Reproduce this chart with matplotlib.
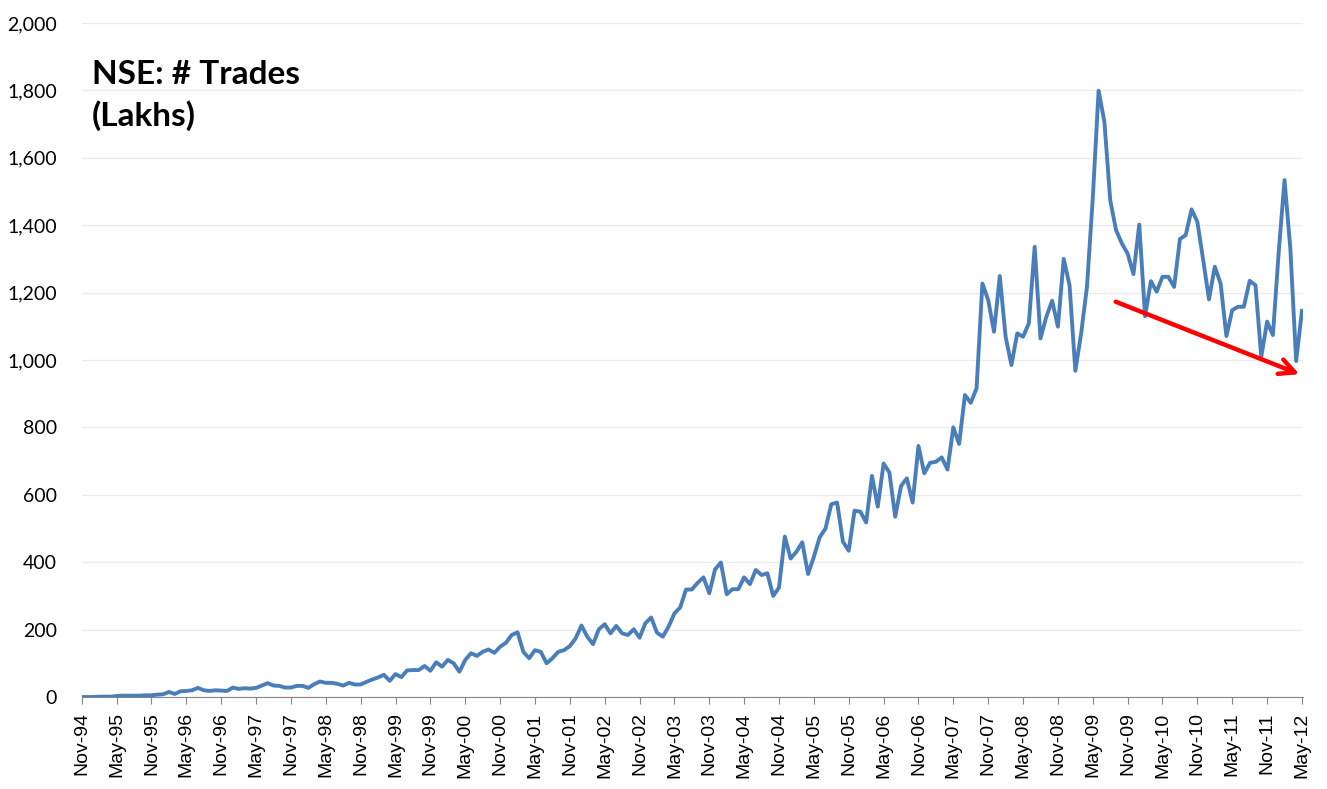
import matplotlib.pyplot as plt
import numpy as np

# monthly number of trades on NSE, lakhs, Nov-94 .. May-12
trades = [
    0, 0, 0, 1, 1, 1, 3, 4, 4, 4, 4, 5,
    5, 7, 8, 15, 9, 17, 18, 20, 27, 20, 18, 20,
    19, 18, 28, 24, 26, 25, 27, 34, 41, 34, 33, 28,
    28, 33, 33, 27, 38, 46, 42, 42, 39, 34, 42, 37,
    37, 45, 52, 58, 66, 48, 68, 59, 79, 80, 80, 92,
    78, 103, 90, 110, 100, 75, 110, 130, 122, 134, 141, 131,
    149, 161, 184, 192, 134, 115, 139, 134, 100, 115, 134, 139,
    151, 174, 212, 179, 157, 201, 216, 189, 211, 189, 184, 201,
    176, 219, 236, 191, 179, 209, 248, 266, 319, 319, 339, 355,
    308, 379, 399, 305, 320, 320, 355, 335, 377, 362, 367, 300,
    325, 476, 411, 431, 459, 365, 416, 474, 500, 572, 577, 461,
    434, 553, 550, 518, 656, 565, 693, 666, 535, 626, 649, 577,
    745, 664, 695, 698, 711, 675, 800, 751, 896, 873, 916, 1227,
    1178, 1084, 1249, 1069, 985, 1079, 1069, 1109, 1336, 1064, 1128, 1176,
    1099, 1300, 1222, 968, 1079, 1217, 1480, 1799, 1707, 1475, 1386, 1346,
    1316, 1255, 1402, 1130, 1234, 1203, 1247, 1247, 1217, 1359, 1371, 1447,
    1410, 1297, 1180, 1277, 1227, 1071, 1148, 1158, 1158, 1235, 1222, 1010,
    1114, 1074, 1320, 1534, 1331, 997, 1146,
]

xlabels = [
    'Nov-94', 'May-95', 'Nov-95', 'May-96', 'Nov-96', 'May-97', 'Nov-97',
    'May-98', 'Nov-98', 'May-99', 'Nov-99', 'May-00', 'Nov-00', 'May-01',
    'Nov-01', 'May-02', 'Nov-02', 'May-03', 'Nov-03', 'May-04', 'Nov-04',
    'May-05', 'Nov-05', 'May-06', 'Nov-06', 'May-07', 'Nov-07', 'May-08',
    'Nov-08', 'May-09', 'Nov-09', 'May-10', 'Nov-10', 'May-11', 'Nov-11',
    'May-12',
]
yticks = [0, 200, 400, 600, 800, 1000, 1200, 1400, 1600, 1800, 2000]

# trend arrow: (month index, value) start and end
arrow_start = (177.5, 1176)
arrow_end = (210, 955)

linecolor = '#4A7EBB'
gridcolor = '#EBEBEB'
axiscolor = '#868686'

fig = plt.figure(figsize=(13.27, 7.89), dpi=100)
ax = fig.add_axes([0.0616, 0.1166, 0.9204, 0.8542])

x = np.arange(len(trades))
ax.plot(x, trades, color=linecolor, lw=2.8, solid_joinstyle='round', zorder=3)

ax.annotate('', xy=arrow_end, xytext=arrow_start,
            arrowprops=dict(arrowstyle='->,head_length=1.1,head_width=0.55',
                            color='#FF0000', lw=3.2), zorder=4)

ax.set_xlim(0, 210.2)
ax.set_ylim(0, 2000)
ax.set_yticks(yticks)
ax.set_yticklabels([f'{v:,}' for v in yticks], fontfamily='Lato', fontsize=14)
ax.set_xticks(np.arange(0, len(trades), 6))
ax.set_xticklabels(xlabels, rotation=90, fontfamily='Liberation Sans', fontsize=14)

ax.grid(axis='y', color=gridcolor, lw=1)
ax.set_axisbelow(True)
for side in ['top', 'right', 'left']:
    ax.spines[side].set_visible(False)
ax.spines['bottom'].set_color(axiscolor)
ax.tick_params(axis='y', length=0, pad=18)
ax.tick_params(axis='x', length=5, color=axiscolor, pad=6)

fig.text(0.0695, 0.924, 'NSE: # Trades\n(Lakhs)', fontfamily='Lato',
         fontweight='bold', fontsize=24, va='top', ha='left', linespacing=1.45)

plt.savefig('out.png', dpi=100)
plt.close()
